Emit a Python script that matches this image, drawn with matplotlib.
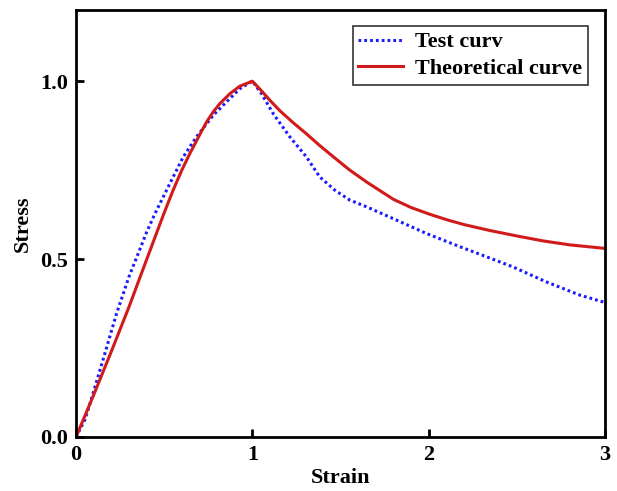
import matplotlib
matplotlib.use("Agg")
import matplotlib.pyplot as plt

plt.rcParams['font.family'] = ['Liberation Serif', 'DejaVu Serif']
plt.rcParams['font.weight'] = 'bold'

# Test curve (blue dotted)
test_strain = [0.0, 0.05, 0.08, 0.136, 0.23, 0.30, 0.353, 0.40, 0.448, 0.533, 0.608, 0.684, 0.778, 0.854,
               0.929, 1.0, 1.052, 1.118, 1.212, 1.307, 1.382, 1.467, 1.552, 1.647,
               1.798, 1.987, 2.176, 2.336, 2.478, 2.667, 2.856, 3.0]
test_stress = [0.0, 0.048, 0.095, 0.188, 0.347, 0.45, 0.516, 0.575, 0.628, 0.713, 0.787, 0.844, 0.904, 0.942,
               0.979, 1.0, 0.965, 0.909, 0.844, 0.787, 0.731, 0.694, 0.666, 0.647,
               0.614, 0.572, 0.535, 0.505, 0.478, 0.436, 0.399, 0.378]

# Theoretical curve (red solid)
theo_strain = [0.0, 0.1, 0.2, 0.3, 0.4, 0.5, 0.551, 0.6, 0.646, 0.7, 0.74, 0.78, 0.816, 0.873, 0.929, 1.0,
               1.05, 1.1, 1.156, 1.23, 1.307, 1.38, 1.458, 1.55, 1.65, 1.8, 1.9, 2.0, 2.1, 2.2,
               2.35, 2.5, 2.65, 2.8, 3.0]
theo_stress = [0.0, 0.118, 0.24, 0.365, 0.498, 0.63, 0.694, 0.75, 0.797, 0.848, 0.885, 0.915, 0.937, 0.965, 0.986, 1.0,
               0.974, 0.946, 0.917, 0.884, 0.852, 0.82, 0.788, 0.751, 0.716, 0.668, 0.645, 0.627, 0.611, 0.597,
               0.580, 0.565, 0.551, 0.540, 0.530]

xticks = [0, 1, 2, 3]
yticks = [0.0, 0.5, 1.0]
ytick_labels = ["0.0", "0.5", "1.0"]

fig = plt.figure(figsize=(6.17, 4.91), dpi=100)
ax = fig.add_axes([0.1232, 0.11, 0.8573, 0.8696])

ax.plot(test_strain, test_stress, color='#1a1aff', lw=2.2, linestyle=(0, (0.9, 1.0)),
        dash_capstyle='butt', label='Test curv')
ax.plot(theo_strain, theo_stress, color='#d11a1a', lw=2.2, label='Theoretical curve')

ax.set_xlim(0, 3)
ax.set_ylim(0, 1.2)
ax.set_xticks(xticks)
ax.set_xticklabels([str(t) for t in xticks])
ax.set_yticks(yticks)
ax.set_yticklabels(ytick_labels)
ax.tick_params(direction='in', length=6, width=2, labelsize=16, pad=6)
for lab in ax.get_xticklabels() + ax.get_yticklabels():
    lab.set_fontweight('bold')
for s in ax.spines.values():
    s.set_linewidth(2)

ax.set_xlabel('Strain', fontsize=16, fontweight='bold', labelpad=2)
ax.set_ylabel('Stress', fontsize=16, fontweight='bold', labelpad=5)

leg = ax.legend(loc='upper right', bbox_to_anchor=(0.967, 0.962), fontsize=16, frameon=True,
                fancybox=False, edgecolor='black', borderpad=0.25, handlelength=2.0,
                handletextpad=0.55, labelspacing=0.28, borderaxespad=0.0)
leg.get_frame().set_linewidth(1.2)
for t in leg.get_texts():
    t.set_fontweight('bold')

fig.savefig('out.png', dpi=100)
